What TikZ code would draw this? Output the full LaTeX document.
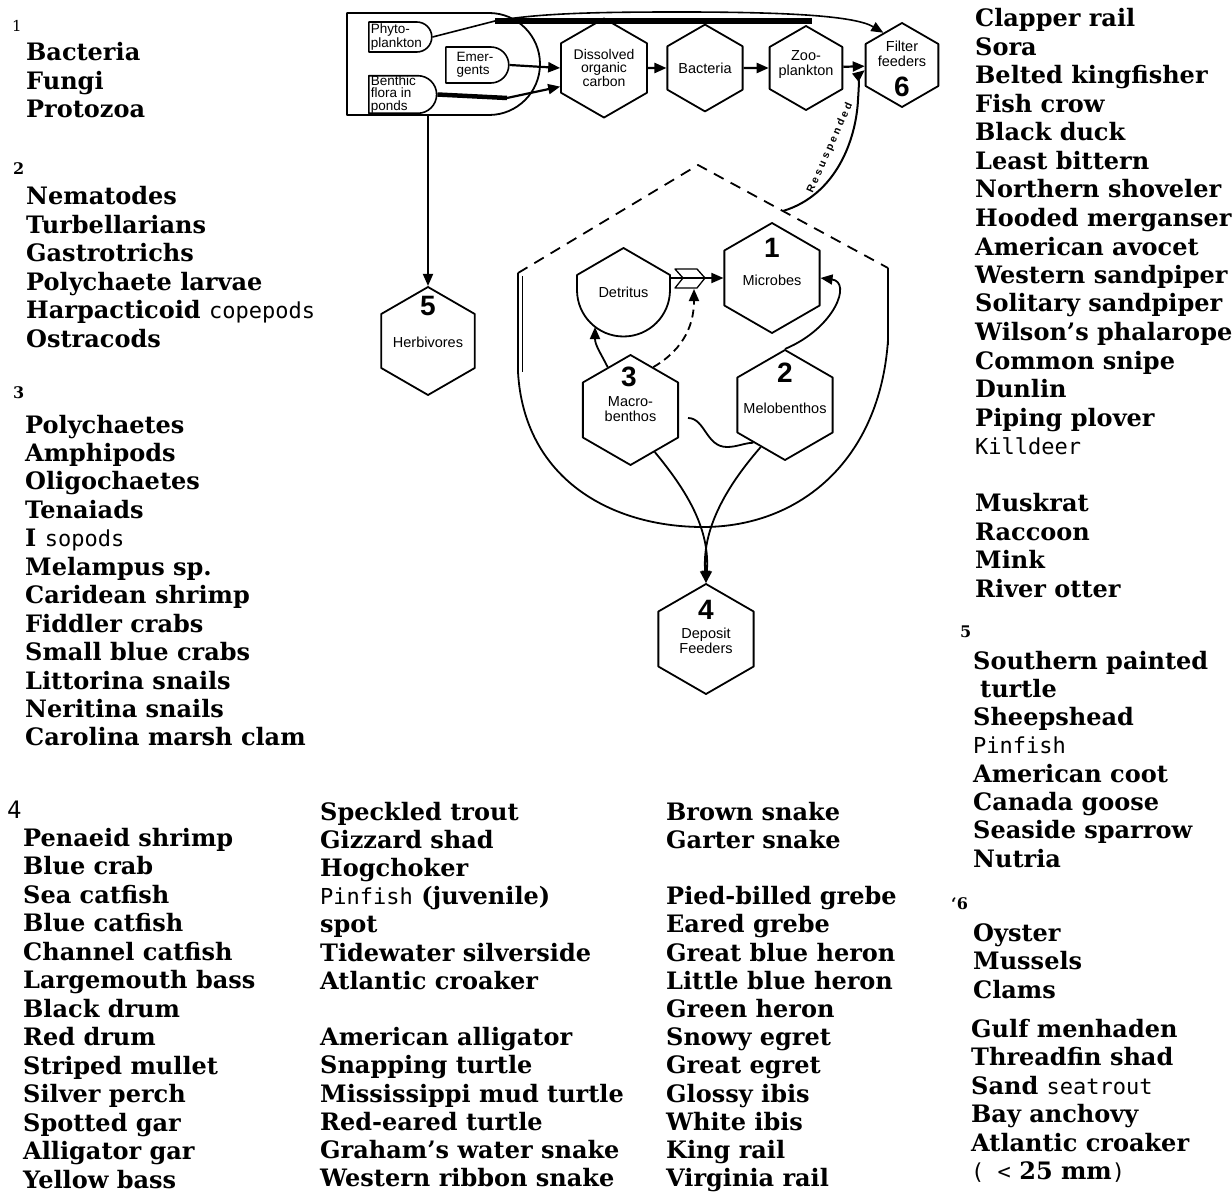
\documentclass[tikz,border=0pt]{standalone}
\usepackage{fontspec}
\setmainfont{DejaVu Serif}
\newfontfamily\sansf{Liberation Sans}
\newfontfamily\monof{DejaVu Sans Mono}
\usetikzlibrary{arrows.meta,shapes.geometric,shapes.misc,calc}
\newcommand\lightf{\monof\mdseries\fontsize{22}{28.5}\selectfont}
\newcommand\hexf{\sansf\fontsize{14.5}{15}\selectfont}
\newcommand\numf{\sansf\bfseries\fontsize{28}{28}\selectfont}
\newcommand\resf{\sansf\bfseries\fontsize{10.5}{10.5}\selectfont\addfontfeatures{LetterSpace=28}}
\newcommand\smallnum{\fontsize{16}{16}\selectfont\bfseries}
\newcommand\tlist[5]{\foreach \itm [count=\i from 0] in {#5} {\node[item] (#1\i) at (#2,{#3+\i*#4}) {\itm};}}
\begin{document}
\begin{tikzpicture}[x=1pt,y=-1pt,line join=round,
  item/.style={anchor=base west,inner sep=0pt,font=\fontsize{24}{28.5}\selectfont\bfseries},
  lab/.style={anchor=base west,inner sep=0pt},
  hexa/.style={draw,line width=1.8pt,regular polygon,regular polygon sides=6,shape border rotate=30,inner sep=0pt,minimum size=#1,align=center,font=\hexf},
  pbox/.style={draw,line width=1.6pt,rounded rectangle,rounded rectangle left arc=none,align=left,inner xsep=2pt,inner ysep=0pt,font=\sansf\fontsize{13.5}{12.5}\selectfont},
  arr/.style={line width=2.2pt,-{Triangle[length=12pt,width=10pt]}},
  num/.style={inner sep=0pt,font=\numf},
  txt/.style={inner sep=0pt,align=center,font=\hexf}]
\fill[white] (0,0) rectangle (1232,1193);
\useasboundingbox (0,0) rectangle (1232,1193);

% ---------- source box ----------
\node[draw,line width=1.8pt,rounded rectangle,rounded rectangle left arc=none,minimum width=193pt,minimum height=102pt,inner sep=0pt] (src) at (443.5,64) {};
\node[pbox,minimum width=67pt,minimum height=30pt,anchor=west] (phy) at (368,37) {Phyto-\\plankton};
\node[pbox,minimum width=67pt,minimum height=36pt,anchor=west] (emg) at (445,65) {Emer-\\gents};
\node[pbox,minimum width=67pt,minimum height=35pt,anchor=west] (ben) at (368,94.5) {Benthic\\flora in\\ponds};

% ---------- top hexagons ----------
\node[hexa=84pt,font=\sansf\fontsize{14}{13}\selectfont] (doc) at (604,68) {Dissolved\\organic\\carbon};
\node[hexa=84pt] (bac) at (705,68) {Bacteria};
\node[hexa=84pt] (zoo) at (806,68) {};
\node[txt] (zoot) at (806,65) {Zoo-\\plankton};
\node[hexa=84pt] (ff) at (902,65) {};
\node[txt] (fft) at (902,54) {Filter\\feeders};
\node[num] (n6) at (902,87) {6};

% ---------- lower hexagons ----------
\node[hexa=110pt] (mic) at (772,278) {};
\node[txt] (mict) at (772,280) {Microbes};
\node[num] (n1) at (772,248) {1};
\node[hexa=110pt] (mac) at (630.5,410) {};
\node[txt] (mact) at (630.5,409) {Macro-\\benthos};
\node[num] (n3) at (629,377) {3};
\node[hexa=110pt] (mel) at (785,405) {};
\node[txt] (melt) at (785,408) {Melobenthos};
\node[num] (n2) at (785,373) {2};
\node[hexa=110pt] (dep) at (706,639) {};
\node[txt] (dept) at (706,641) {Deposit\\Feeders};
\node[num] (n4) at (706,610) {4};
\node[hexa=108pt] (herb) at (428,341) {};
\node[txt] (herbt) at (428,342) {Herbivores};
\node[num] (n5) at (428,306) {5};

% Detritus
\node[txt,minimum width=93pt,minimum height=30pt] (detr) at (623.5,292) {Detritus};
\draw[line width=1.8pt] (577,275) -- (623.5,248) -- (670,275) -- (670,290) .. controls (670,315.7) and (649.2,336.5) .. (623.5,336.5) .. controls (597.8,336.5) and (577,315.7) .. (577,290) -- cycle;

% ---------- benthic compartment ----------
\coordinate (ul) at (518,273);
\coordinate (pk) at (698,165);
\coordinate (ur) at (888,268);
\draw[line width=1.8pt,dash pattern=on 11pt off 8pt] (ul) -- (pk) -- (ur);
\draw[line width=1.8pt] (ul) -- (518,372) .. controls (524,478) and (610,527) .. (703,527) .. controls (800,527) and (880,460) .. (888,340) -- (ur);
\draw[line width=1pt] (522,276) -- (522,372);
\draw[line width=2.6pt] (888,270) -- (888,345);

% ---------- connectors: top ----------
\coordinate (pb) at (495,21);
\coordinate (pe) at (812,21);
\draw[line width=1.6pt,-{Triangle[length=12pt,width=10pt]}] (phy.east) -- (pb) .. controls (540,13) and (600,12) .. (680,12) .. controls (790,12) and (855,16) .. (ff.120);
\draw[line width=5.5pt] (pb) -- (pe);
\draw[arr] (emg.east) -- (doc.west);
\coordinate (bb) at (507,98);
\draw[line width=4.5pt] (ben.east) -- (bb);
\draw[arr] (bb) -- (doc.203);
\draw[arr] (doc) -- (bac);
\draw[arr] (bac) -- (zoo);
\draw[arr] (zoo) -- (ff);
\draw[arr,line width=1.8pt] (src.south -| herb.north) -- (herb.north);

% Resuspended
\coordinate (rs) at (783,211);
\draw[arr,line width=2pt] (rs) .. controls (836,195) and (856,140) .. (858,100) .. controls (859,84) and (860,74) .. (ff.188);
\node[inner sep=0pt,rotate=66,font=\resf] (resl) at (830,148) {Resuspended};

% ---------- connectors: benthos ----------
\draw[arr,line width=1.8pt] (detr.east |- mic.west) -- (mic.west);
\draw[line width=1.3pt] (675,269) -- (697,269) -- (705,278) -- (697,288) -- (675,288) -- (683,278) -- cycle;
\coordinate (fb) at (694,289);
\draw[arr,line width=1.8pt,dash pattern=on 8pt off 5pt] (mac.62) .. controls (686,348) and (694,322) .. (fb);
\coordinate (dtp) at (595,327);
\draw[arr,line width=1.8pt] (mac.118) .. controls (600,352) and (595,345) .. (dtp);
\draw[arr,line width=1.8pt] (mel.north) .. controls (835,328) and (852,282) .. (mic.east);
\coordinate (ws) at (688,418);
\draw[line width=1.8pt] (ws) .. controls (705,418) and (706,447) .. (727,447) .. controls (737,447) and (744,443) .. (mel.230);
\draw[arr,line width=1.8pt] (mac.-60) .. controls (688,492) and (710,530) .. (dep.north);
\draw[arr,line width=1.8pt] (mel.-120) .. controls (725,488) and (702,530) .. (dep.north);

% ---------- species lists ----------
\node[lab,font=\fontsize{15}{15}\selectfont] (h1) at (12,32) {1};
\tlist{a}{26}{61}{28.5}{Bacteria,Fungi,Protozoa}
\node[lab,font=\smallnum] (h2) at (13,175) {2};
\tlist{b}{26}{205}{28.4}{Nematodes,Turbellarians,Gastrotrichs,Polychaete larvae,Harpacticoid {\lightf copepods},Ostracods}
\node[lab,font=\smallnum] (h3) at (13,398) {3};
\tlist{c}{25}{433}{28.45}{Polychaetes,Amphipods,Oligochaetes,Tenaiads,I {\lightf sopods},Melampus sp.,Caridean shrimp,Fiddler crabs,Small blue crabs,Littorina snails,Neritina snails,Carolina marsh clam}
\node[lab,font=\monof\fontsize{24}{24}\selectfont] (h4) at (7,818) {4};
\tlist{d}{23}{846}{28.5}{Penaeid shrimp,Blue crab,Sea catfish,Blue catfish,Channel catfish,Largemouth bass,Black drum,Red drum,Striped mullet,Silver perch,Spotted gar,Alligator gar,Yellow bass}
\tlist{e}{320}{820}{28.2}{Speckled trout,Gizzard shad,Hogchoker,{\lightf Pinfish} (juvenile),spot,Tidewater silverside,Atlantic croaker}
\tlist{f}{320}{1045.6}{28.2}{American alligator,Snapping turtle,Mississippi mud turtle,Red-eared turtle,Graham's water snake,Western ribbon snake}
\tlist{g}{666}{820}{28.2}{Brown snake,Garter snake}
\tlist{k}{666}{904.6}{28.2}{Pied-billed grebe,Eared grebe,Great blue heron,Little blue heron,Green heron,Snowy egret,Great egret,Glossy ibis,White ibis,King rail,Virginia rail}
\tlist{m}{975}{27}{28.5}{Clapper rail,Sora,Belted kingfisher,Fish crow,Black duck,Least bittern,Northern shoveler,Hooded merganser,American avocet,Western sandpiper,Solitary sandpiper,Wilson's phalarope,Common snipe,Dunlin,Piping plover,{\lightf Killdeer}}
\tlist{p}{975}{511.5}{28.5}{Muskrat,Raccoon,Mink,River otter}
\node[lab,font=\smallnum] (h5) at (960,637) {5};
\tlist{q}{973}{669}{28.3}{Southern painted,\hspace*{7pt}turtle,Sheepshead,{\lightf Pinfish},American coot,Canada goose,Seaside sparrow,Nutria}
\node[lab,font=\smallnum] (h6) at (951,909) {`6};
\tlist{r}{973}{941}{28.5}{Oyster,Mussels,Clams}
\tlist{s}{971}{1037}{28.5}{Gulf menhaden,Threadfin shad,Sand {\lightf seatrout},Bay anchovy,Atlantic croaker,{\lightf( <} 25 mm{\lightf)}}
\end{tikzpicture}
\end{document}
